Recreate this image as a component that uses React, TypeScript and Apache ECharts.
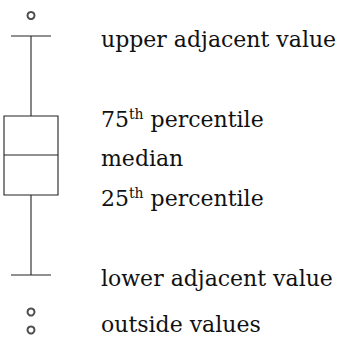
import React, { useEffect, useRef } from "react";
import * as echarts from "echarts";

// Schematic box plot values (height units, 0 = bottom of chart)
const categories = ["sample"];
const lowerAdjacent = 63;
const q1 = 143;
const median = 183;
const q3 = 222;
const upperAdjacent = 302;
const outsideValues = [322.5, 26, 8];

const labelTexts = [
  "upper adjacent value",
  "{n|75}{s|th}{n| percentile}",
  "median",
  "{n|25}{s|th}{n| percentile}",
  "lower adjacent value",
  "outside values",
];
const labelAt = [upperAdjacent, q3, median, q1, lowerAdjacent, 17];

const INK = "#222";
const FONT = "'DejaVu Serif', 'Liberation Serif', serif";

export default function App() {
  const ref = useRef<HTMLDivElement>(null);
  useEffect(() => {
    if (!ref.current) return;
    const chart = echarts.init(ref.current, undefined, { renderer: "svg" });
    chart.setOption({
      animation: false,
      grid: { left: 0, width: 62, top: 0, bottom: 0 },
      xAxis: { type: "category", data: categories, show: false },
      yAxis: { type: "value", min: 0, max: 338, show: false },
      series: [
        {
          type: "custom",
          data: [[0, lowerAdjacent, q1, median, q3, upperAdjacent]],
          renderItem: (params: any, api: any) => {
            const c = api.value(0);
            const pl = api.coord([c, api.value(1)]);
            const p1 = api.coord([c, api.value(2)]);
            const pm = api.coord([c, api.value(3)]);
            const p3 = api.coord([c, api.value(4)]);
            const pu = api.coord([c, api.value(5)]);
            const x = pl[0];
            const half = 27;
            const cap = 20;
            const st = { stroke: INK, lineWidth: 1.1, fill: "none" };
            return {
              type: "group",
              children: [
                { type: "line", shape: { x1: x, y1: p3[1], x2: x, y2: pu[1] }, style: st },
                { type: "line", shape: { x1: x, y1: p1[1], x2: x, y2: pl[1] }, style: st },
                { type: "line", shape: { x1: x - cap, y1: pu[1], x2: x + cap, y2: pu[1] }, style: st },
                { type: "line", shape: { x1: x - cap, y1: pl[1], x2: x + cap, y2: pl[1] }, style: st },
                {
                  type: "rect",
                  shape: { x: x - half, y: p3[1], width: half * 2, height: p1[1] - p3[1] },
                  style: st,
                },
                { type: "line", shape: { x1: x - half, y1: pm[1], x2: x + half, y2: pm[1] }, style: st },
              ],
            };
          },
        },
        {
          type: "scatter",
          data: outsideValues.map((v) => [0, v]),
          symbol: "emptyCircle",
          symbolSize: 7,
          itemStyle: { color: INK, borderColor: INK, borderWidth: 1.1 },
        },
        {
          type: "custom",
          data: labelAt.map((v, i) => [0, v, i]),
          renderItem: (params: any, api: any) => {
            const p = api.coord([api.value(0), api.value(1)]);
            const i = api.value(2);
            return {
              type: "text",
              style: {
                text: labelTexts[i],
                x: p[0] + 70,
                y: p[1] + 3,
                verticalAlign: "middle",
                align: "left",
                fill: "#111",
                fontFamily: FONT,
                fontSize: 22,
                rich: {
                  n: { fontFamily: FONT, fontSize: 22, fill: "#111", lineHeight: 28 },
                  s: { fontFamily: FONT, fontSize: 14, fill: "#111", lineHeight: 28, verticalAlign: "top", padding: [2, 0, 0, 0] },
                },
              },
            };
          },
        },
      ],
    });
    return () => chart.dispose();
  }, []);
  return (
    <div
      ref={ref}
      style={{ position: "fixed", left: 0, top: 0, width: 347, height: 338, background: "#fff" }}
    />
  );
}
